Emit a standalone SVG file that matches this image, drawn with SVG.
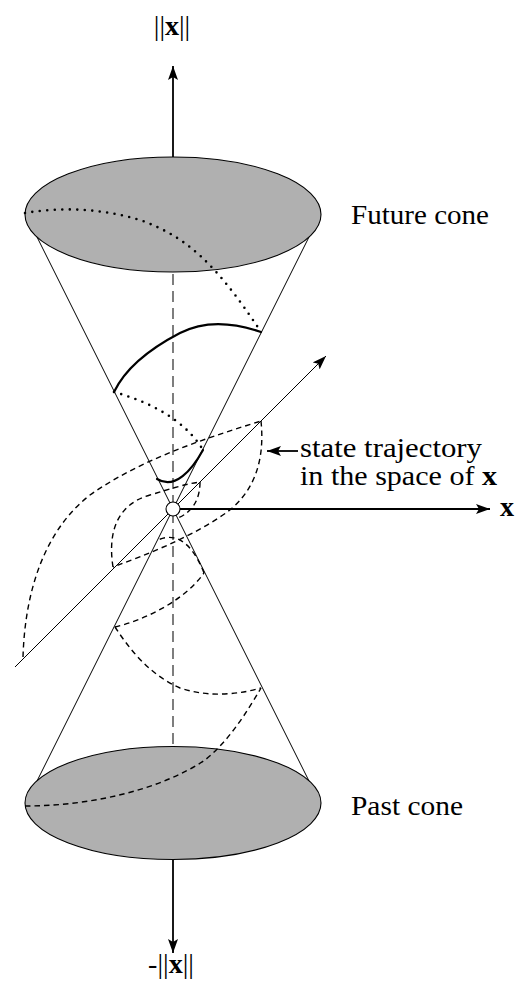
<svg xmlns="http://www.w3.org/2000/svg" width="524" height="981" viewBox="0 0 524 981">
<style>
.bg{fill:#ffffff}
.cone{stroke:#000;stroke-width:1;fill:none}
.disk{fill:#b0b0b0;stroke:#000;stroke-width:1.1}
.vaxis{stroke:#707070;stroke-width:1.8;stroke-dasharray:11 6;fill:none}
.axis{stroke:#000;stroke-width:1.8;fill:none}
.thin{stroke:#000;stroke-width:1;fill:none}
.dot{stroke:#000;stroke-width:2.6;stroke-linecap:round;stroke-dasharray:0 7.5;fill:none}
.solid{stroke:#000;stroke-width:2.2;fill:none;stroke-linecap:round}
.dash{stroke:#000;stroke-width:1.4;stroke-dasharray:5.5 4;fill:none}
.lbl{font-family:'Liberation Serif','DejaVu Serif',serif;font-size:28px;fill:#000}
.b{font-weight:bold}
</style>
<defs>
<marker id="ah" viewBox="0 0 14 10" refX="14" refY="5" markerWidth="14" markerHeight="10" markerUnits="userSpaceOnUse" orient="auto">
<path d="M0,0 L14,5 L0,10 L3,5 Z" fill="#000"/>
</marker>
</defs>
<rect class="bg" x="0" y="0" width="524" height="981"/>
<g id="cones">
<line class="cone" x1="27" y1="217" x2="319" y2="801"/>
<line class="cone" x1="319" y1="217" x2="27" y2="801"/>
</g>
<g id="norm-axis">
<line class="vaxis" x1="173" y1="274" x2="173" y2="745"/>
</g>
<g id="future-cone">
<ellipse class="disk" cx="173" cy="214.5" rx="148" ry="57.5"/>
</g>
<g id="past-cone">
<ellipse class="disk" cx="173" cy="803" rx="148" ry="56.5"/>
</g>
<g id="connectors">
<path class="dot" d="M25,213 C60,207 100,208 140,220 C185,236 215,262 261,332"/>
<path class="solid" d="M261,332 C235,323 205,320 180,333 C155,346 127,365 114,392"/>
<path class="dot" d="M114,392 C150,402 185,420 203,450"/>
<path class="solid" d="M203,450 C192,470 175,490 157,479"/>
<path class="dash" d="M23,657 C25,590 45,530 90,495 C140,460 200,440 261,421"/>
<path class="dash" d="M261,421 C265,460 255,495 220,517 C185,540 145,555 113,567"/>
<path class="dash" d="M113,567 C108,535 115,505 150,495 C170,489 185,484 200,482"/>
<path class="dash" d="M200,482 C200,500 192,512 178,518"/>
<path class="dash" d="M25,806 C90,806 160,790 205,760 C230,740 248,710 261,688"/>
<path class="dash" d="M115,627 C130,650 150,675 180,688 C210,698 240,694 261,688"/>
<path class="dash" d="M115,627 C145,620 185,600 204,573"/>
<path class="dash" d="M204,573 C195,550 180,530 158,540"/>
<line class="axis" x1="173" y1="157" x2="173" y2="66" marker-end="url(#ah)"/>
<line class="axis" x1="173" y1="860" x2="173" y2="953" marker-end="url(#ah)"/>
<line class="axis" x1="180" y1="509" x2="490" y2="509" marker-end="url(#ah)"/>
<line class="thin" x1="15" y1="667" x2="326" y2="356" marker-end="url(#ah)"/>
<line class="axis" x1="298" y1="451" x2="267" y2="451" marker-end="url(#ah)"/>
</g>
<g id="origin">
<circle cx="173" cy="509" r="7" fill="#fff" stroke="#000" stroke-width="1.1"/>
</g>
<g id="labels" font-family="'Liberation Serif','DejaVu Serif',serif">
<text class="lbl" x="172" y="35" text-anchor="middle">||<tspan class="b">x</tspan>||</text>
<text class="lbl" x="171" y="973" text-anchor="middle">-||<tspan class="b">x</tspan>||</text>
<text class="lbl b" x="500" y="516">x</text>
<text class="lbl" x="351" y="224" textLength="138" lengthAdjust="spacingAndGlyphs">Future cone</text>
<text class="lbl" x="351" y="815" textLength="112" lengthAdjust="spacingAndGlyphs">Past cone</text>
<text class="lbl" x="300" y="457" textLength="182" lengthAdjust="spacingAndGlyphs">state trajectory</text>
<text class="lbl" x="300" y="485" textLength="197" lengthAdjust="spacingAndGlyphs">in the space of <tspan class="b">x</tspan></text>
</g>
</svg>
